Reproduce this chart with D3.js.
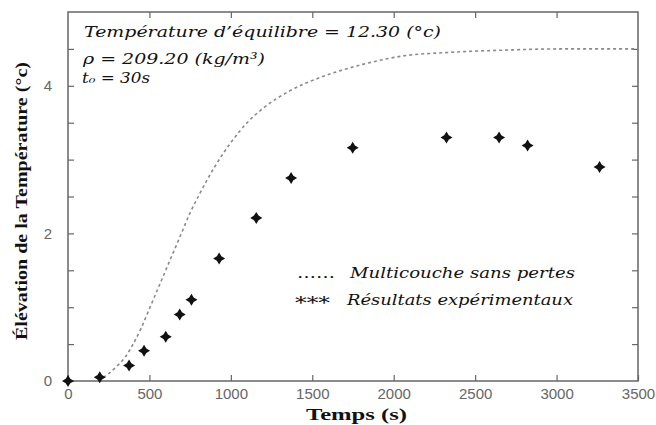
<!DOCTYPE html>
<html>
<head>
<meta charset="utf-8">
<script src="https://cdn.jsdelivr.net/npm/d3@7"></script>
<style>
  body { margin: 0; background: #fff; }
  svg { display: block; }
</style>
</head>
<body>
<div id="chart"></div>
<script>
// theoretical curve (Multicouche sans pertes)
const modelTime = [0, 150, 200, 250, 300, 350, 400, 450, 500, 550, 600, 650, 700, 750, 800, 900, 1000, 1100, 1200, 1360, 1545, 1650, 1810, 2075, 2320, 2630, 3035, 3500];
const modelRise = [0, 0, 0.03, 0.1, 0.2, 0.32, 0.5, 0.72, 0.98, 1.24, 1.5, 1.76, 2.02, 2.28, 2.5, 2.9, 3.23, 3.5, 3.7, 3.93, 4.11, 4.19, 4.29, 4.41, 4.45, 4.48, 4.5, 4.5];

// measured points (Résultats expérimentaux)
const expTime = [0, 195, 375, 467, 600, 686, 758, 928, 1156, 1370, 1748, 2324, 2647, 2822, 3264];
const expRise = [0, 0.05, 0.21, 0.41, 0.6, 0.9, 1.1, 1.66, 2.21, 2.75, 3.16, 3.3, 3.3, 3.19, 2.9];

const xTicks = [0, 500, 1000, 1500, 2000, 2500, 3000, 3500];
const yTicks = [0, 0.5, 1, 1.5, 2, 2.5, 3, 3.5, 4, 4.5, 5];
const yLabels = [0, 2, 4];

const infoLines = ["Température d\u2019équilibre = 12.30 (°c)", "ρ = 209.20 (kg/m³)", "t₀ = 30s"];
const legendLabels = ["Multicouche sans pertes", "Résultats expérimentaux"];

const W = 656, H = 425;
const plot = { left: 68, right: 638, top: 12, bottom: 381 };
const serif = "'DejaVu Serif', 'Liberation Serif', serif";

const svg = d3.select("#chart").append("svg")
    .attr("width", W)
    .attr("height", H);

const x = d3.scaleLinear().domain([0, 3500]).range([plot.left, plot.right]);
const y = d3.scaleLinear().domain([0, 5]).range([plot.bottom, plot.top]);

// axes with inward ticks
const tickStyle = g => {
    g.select(".domain").remove();
    g.selectAll(".tick line").attr("stroke", "#666").attr("stroke-width", 1.2);
    g.selectAll("text")
     .attr("fill", "#666")
     .style("font-family", "'Liberation Sans', Arial, sans-serif")
     .style("font-size", "15px");
};

svg.append("g")
   .attr("transform", `translate(0,${plot.bottom})`)
   .call(d3.axisBottom(x).tickValues(xTicks).tickSizeInner(-6).tickSizeOuter(0).tickPadding(7)
         .tickFormat(d3.format("d")))
   .call(tickStyle);

svg.append("g")
   .attr("transform", `translate(0,${plot.top})`)
   .call(d3.axisTop(x).tickValues(xTicks.slice(1, -1)).tickSizeInner(-6).tickSizeOuter(0).tickFormat(""))
   .call(tickStyle);

svg.append("g")
   .attr("transform", `translate(${plot.left},0)`)
   .call(d3.axisLeft(y).tickValues(yTicks.slice(0, -1)).tickSizeInner(-6).tickSizeOuter(0).tickPadding(16)
         .tickFormat(d => yLabels.includes(d) ? d : ""))
   .call(tickStyle);

svg.append("g")
   .attr("transform", `translate(${plot.right},0)`)
   .call(d3.axisRight(y).tickValues(yTicks.slice(1, -1)).tickSizeInner(-6).tickSizeOuter(0).tickFormat(""))
   .call(tickStyle);

// frame
svg.append("rect")
   .attr("x", plot.left).attr("y", plot.top)
   .attr("width", plot.right - plot.left).attr("height", plot.bottom - plot.top)
   .attr("fill", "none")
   .attr("stroke", "#666")
   .attr("stroke-width", 1.5);

// model curve
const modelData = modelTime.map((t, i) => [t, modelRise[i]]);
const line = d3.line()
    .x(d => x(d[0]))
    .y(d => y(d[1]))
    .curve(d3.curveMonotoneX);

svg.append("path")
   .datum(modelData)
   .attr("fill", "none")
   .attr("stroke", "#8a8a8a")
   .attr("stroke-width", 1.6)
   .attr("stroke-dasharray", "3,3")
   .attr("d", line);

// 4-point star marker
const star = {
    draw(ctx, size) {
        const r = Math.sqrt(size), w = r * 0.38;
        ctx.moveTo(0, -r);
        ctx.lineTo(w, -w);
        ctx.lineTo(r, 0);
        ctx.lineTo(w, w);
        ctx.lineTo(0, r);
        ctx.lineTo(-w, w);
        ctx.lineTo(-r, 0);
        ctx.lineTo(-w, -w);
        ctx.closePath();
    }
};

svg.selectAll(".pt")
   .data(expTime.map((t, i) => [t, expRise[i]]))
   .enter()
   .append("path")
   .attr("class", "pt")
   .attr("transform", d => `translate(${x(d[0])},${y(d[1])})`)
   .attr("d", d3.symbol().type(star).size(36))
   .attr("fill", "#111");

// info text
const info = svg.append("g")
    .style("font-family", serif)
    .style("font-style", "italic")
    .attr("fill", "#111");

info.append("text").attr("x", 84).attr("y", 37)
    .style("font-size", "15px")
    .attr("textLength", 357).attr("lengthAdjust", "spacingAndGlyphs")
    .text(infoLines[0]);
info.append("text").attr("x", 83).attr("y", 64)
    .style("font-size", "15px")
    .attr("textLength", 182).attr("lengthAdjust", "spacingAndGlyphs")
    .text(infoLines[1]);
info.append("text").attr("x", 82).attr("y", 83)
    .style("font-size", "14px")
    .attr("textLength", 68).attr("lengthAdjust", "spacingAndGlyphs")
    .text(infoLines[2]);

// legend
const legend = svg.append("g")
    .style("font-family", serif)
    .attr("fill", "#111");

legend.append("text").attr("x", 297).attr("y", 278)
    .style("font-size", "14px")
    .attr("textLength", 38).attr("lengthAdjust", "spacingAndGlyphs")
    .text("……");
legend.append("text").attr("x", 350).attr("y", 278)
    .style("font-size", "15px").style("font-style", "italic")
    .attr("textLength", 225).attr("lengthAdjust", "spacingAndGlyphs")
    .text(legendLabels[0]);
legend.append("text").attr("x", 295).attr("y", 309)
    .style("font-size", "16px")
    .attr("textLength", 35).attr("lengthAdjust", "spacingAndGlyphs")
    .text("***");
legend.append("text").attr("x", 347).attr("y", 305)
    .style("font-size", "15px").style("font-style", "italic")
    .attr("textLength", 226).attr("lengthAdjust", "spacingAndGlyphs")
    .text(legendLabels[1]);

// axis titles
svg.append("text")
   .attr("x", 306).attr("y", 420)
   .style("font-family", "'Liberation Serif', 'DejaVu Serif', serif")
   .style("font-weight", "bold")
   .style("font-size", "17px")
   .attr("fill", "#111")
   .attr("textLength", 101).attr("lengthAdjust", "spacingAndGlyphs")
   .text("Temps (s)");

svg.append("text")
   .attr("transform", "translate(27,201) rotate(-90)")
   .attr("text-anchor", "middle")
   .style("font-family", "'Liberation Serif', 'DejaVu Serif', serif")
   .style("font-weight", "bold")
   .style("font-size", "17px")
   .attr("fill", "#111")
   .attr("textLength", 278).attr("lengthAdjust", "spacingAndGlyphs")
   .text("Élévation de la Température (°c)");
</script>
</body>
</html>
